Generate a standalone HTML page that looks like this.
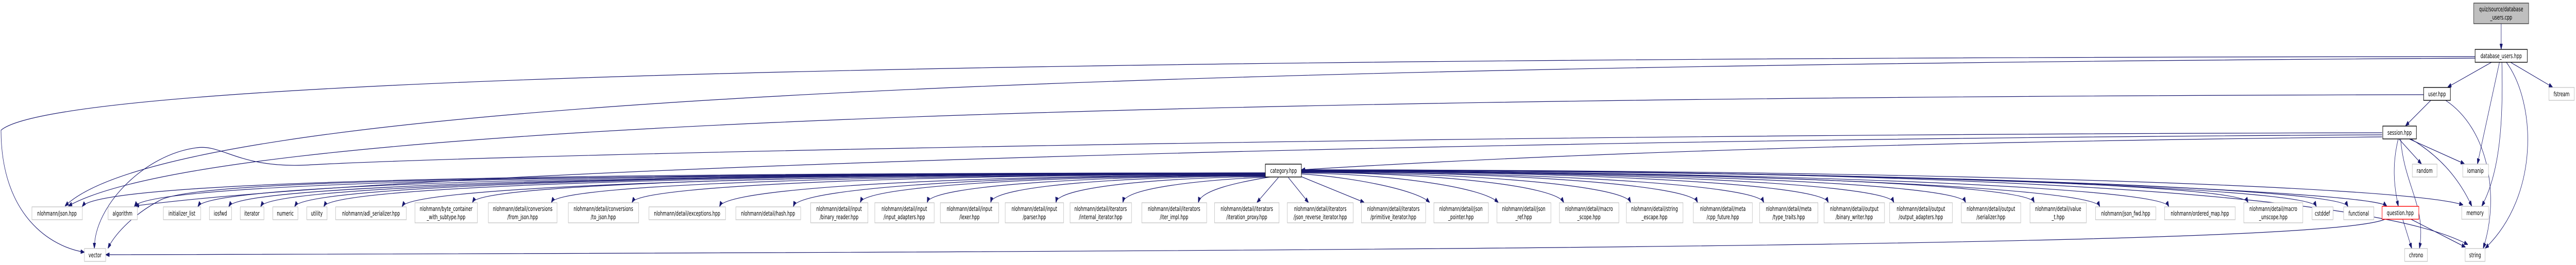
<!DOCTYPE html>
<html><head><meta charset="utf-8">
<style>
html,body{margin:0;padding:0;background:#fff;width:100%;height:100%;overflow:hidden;}
svg{display:block;width:100vw;height:100vh;}
text{font-family:"DejaVu Sans","Liberation Sans",sans-serif;font-size:12px;fill:#000;}
.lf{fill:#fff;stroke:#bfbfbf;stroke-width:1.2;}
.bk{fill:#fff;stroke:#000;stroke-width:1.4;}
.e{fill:none;stroke:#191970;stroke-width:1.2;}
</style></head><body>
<svg viewBox="0 0 7506 515" preserveAspectRatio="none" xmlns="http://www.w3.org/2000/svg">
<defs>
<marker id="a" markerWidth="11" markerHeight="8" refX="10" refY="4" orient="auto" markerUnits="userSpaceOnUse">
<path d="M0,0 L11,4 L0,8 z" fill="#191970" stroke="#191970"/>
</marker>
</defs>
<g class="e" marker-end="url(#a)">
<path d="M7288 46 L7288 95"/>
<path d="M7260 121 L7133 169"/>
<path d="M7315 121 L7437 169"/>
<path d="M7283 121 L7219 318"/>
<path d="M7290 121 C7295 250 7280 340 7232 400"/>
<path d="M7303 121 C7390 200 7400 380 7242 482"/>
<path d="M7212 110 C3500 112 200 140 3 253 C3 420 150 480 245 490"/>
<path d="M7212 113 C3000 130 500 200 190 400"/>
<path d="M7083 195 L7010 244"/>
<path d="M7126 195 C7250 250 7285 380 7236 482"/>
<path d="M7062 184 C3000 190 600 250 200 400"/>
<path d="M6990 270 L7055 318"/>
<path d="M7020 270 L7180 318"/>
<path d="M7025 270 C7100 300 7160 340 7202 400"/>
<path d="M6988 270 C6970 320 6975 360 6988 400"/>
<path d="M6995 270 C7005 360 7070 400 7050 482"/>
<path d="M6941 258 C4000 262 1500 300 912 320 C700 330 650 280 574 287 C420 300 275 400 275 482"/>
<path d="M6941 262 C4000 272 1200 330 395 400"/>
<path d="M6941 266 C5500 276 4500 300 3793 330"/>
<path d="M7001 426 L7027 482"/>
<path d="M7025 426 L7183 480"/>
<path d="M6950 426 C6800 470 5000 488 309 495"/>
<path d="M3687 336 C1950 336 300 345 240 401"/>
<path d="M3687 336 C2030 336 440 350 392 401"/>
<path d="M3687 336 C2130 336 620 352 577 401"/>
<path d="M3687 336 C2180 337 705 355 667 401"/>
<path d="M3687 337 C2220 337 795 356 760 401"/>
<path d="M3687 337 C2270 337 895 356 859 401"/>
<path d="M3687 337 C2320 338 975 358 944 401"/>
<path d="M3687 338 C2430 338 1205 360 1172 401"/>
<path d="M3687 338 C2530 338 1405 355 1377 393"/>
<path d="M3687 339 C2650 339 1635 356 1607 393"/>
<path d="M3687 339 C2760 339 1868 358 1842 393"/>
<path d="M3687 340 C2890 340 2120 362 2097 401"/>
<path d="M3687 340 C3000 340 2330 362 2312 401"/>
<path d="M3687 341 C3100 341 2525 360 2507 393"/>
<path d="M3687 341 C3200 342 2715 360 2702 393"/>
<path d="M3687 342 C3300 343 2897 360 2887 393"/>
<path d="M3690 343 C3400 345 3085 362 3077 393"/>
<path d="M3692 344 C3500 350 3280 365 3272 393"/>
<path d="M3700 344 C3600 355 3500 370 3492 393"/>
<path d="M3725 345 L3663 393"/>
<path d="M3754 345 L3812 393"/>
<path d="M3787 342 L3974 393"/>
<path d="M3792 338 C3950 345 4130 370 4165 393"/>
<path d="M3792 336 C4080 340 4320 365 4365 393"/>
<path d="M3792 335 C4170 336 4530 360 4556 393"/>
<path d="M3792 335 C4270 335 4730 360 4751 393"/>
<path d="M3792 334 C4370 334 4925 358 4946 393"/>
<path d="M3792 334 C4460 334 5118 358 5139 393"/>
<path d="M3792 333 C4560 333 5305 356 5327 393"/>
<path d="M3792 333 C4650 333 5495 355 5518 393"/>
<path d="M3792 333 C4760 333 5705 355 5727 393"/>
<path d="M3792 332 C4860 332 5905 355 5927 393"/>
<path d="M3792 332 C4950 332 6095 362 6118 401"/>
<path d="M3792 332 C5050 332 6295 362 6319 401"/>
<path d="M3792 331 C5170 331 6525 355 6550 393"/>
<path d="M3792 331 C5270 331 6725 362 6749 401"/>
<path d="M3792 331 C5320 331 6815 362 6841 401"/>
<path d="M3792 330 C5380 330 6900 370 6954 400"/>
<path d="M3792 330 C5500 330 7000 360 7176 398"/>
<path d="M3792 330 C5600 330 6900 370 7190 475"/>
<path d="M3687 338 C1500 340 560 350 464 390 C380 420 330 460 315 482"/>
</g>

<rect x="7208" y="6" width="160" height="40" fill="#bfbfbf" stroke="#404040" stroke-width="1.4"/>
<text x="7288" y="22" text-anchor="middle">quiz/source/database</text>
<text x="7288" y="38" text-anchor="middle">_users.cpp</text>
<rect class="bk" x="7212" y="96" width="152" height="25"/><text x="7288" y="113" text-anchor="middle">database_users.hpp</text>
<rect class="bk" x="7062" y="170" width="78" height="25"/><text x="7101" y="187" text-anchor="middle">user.hpp</text>
<rect class="lf" x="7427" y="170" width="74" height="25"/><text x="7464" y="187" text-anchor="middle">fstream</text>
<rect class="bk" x="6943" y="245" width="98" height="25"/><text x="6992" y="262" text-anchor="middle">session.hpp</text>
<rect class="lf" x="7029" y="319" width="72" height="25"/><text x="7065" y="336" text-anchor="middle">random</text>
<rect class="lf" x="7176" y="319" width="75" height="25"/><text x="7213" y="336" text-anchor="middle">iomanip</text>
<rect class="bk" x="3687" y="319" width="105" height="25"/><text x="3740" y="336" text-anchor="middle">category.hpp</text>
<rect x="6941" y="401" width="107" height="25" fill="#fff" stroke="#ff0000" stroke-width="1.4"/><text x="6994" y="418" text-anchor="middle">question.hpp</text>
<rect class="lf" x="7173" y="401" width="78" height="25"/><text x="7212" y="418" text-anchor="middle">memory</text>
<rect class="lf" x="7007" y="483" width="66" height="25"/><text x="7040" y="500" text-anchor="middle">chrono</text>
<rect class="lf" x="7183" y="483" width="58" height="25"/><text x="7212" y="500" text-anchor="middle">string</text>
<rect class="lf" x="246" y="483" width="62" height="25"/><text x="277" y="500" text-anchor="middle">vector</text>

<rect class="lf" x="93" y="402" width="147" height="25"/><text x="166" y="419" text-anchor="middle">nlohmann/json.hpp</text>
<rect class="lf" x="315" y="402" width="85" height="25"/><text x="357" y="419" text-anchor="middle">algorithm</text>
<rect class="lf" x="476" y="402" width="109" height="25"/><text x="530" y="419" text-anchor="middle">initializer_list</text>
<rect class="lf" x="610" y="402" width="65" height="25"/><text x="642" y="419" text-anchor="middle">iosfwd</text>
<rect class="lf" x="700" y="402" width="69" height="25"/><text x="734" y="419" text-anchor="middle">iterator</text>
<rect class="lf" x="795" y="402" width="73" height="25"/><text x="831" y="419" text-anchor="middle">numeric</text>
<rect class="lf" x="894" y="402" width="59" height="25"/><text x="923" y="419" text-anchor="middle">utility</text>
<rect class="lf" x="978" y="402" width="206" height="25"/><text x="1081" y="419" text-anchor="middle">nlohmann/adl_serializer.hpp</text>
<rect class="lf" x="1891" y="402" width="223" height="25"/><text x="2002" y="419" text-anchor="middle">nlohmann/detail/exceptions.hpp</text>
<rect class="lf" x="2144" y="402" width="189" height="25"/><text x="2238" y="419" text-anchor="middle">nlohmann/detail/hash.hpp</text>
<rect class="lf" x="6106" y="402" width="176" height="25"/><text x="6194" y="419" text-anchor="middle">nlohmann/json_fwd.hpp</text>
<rect class="lf" x="6307" y="402" width="206" height="25"/><text x="6410" y="419" text-anchor="middle">nlohmann/ordered_map.hpp</text>
<rect class="lf" x="6737" y="402" width="61" height="25"/><text x="6767" y="419" text-anchor="middle">cstddef</text>
<rect class="lf" x="6829" y="402" width="88" height="25"/><text x="6873" y="419" text-anchor="middle">functional</text>

<rect class="lf" x="1209" y="394" width="182" height="39"/><text x="1300" y="410" text-anchor="middle">nlohmann/byte_container</text><text x="1300" y="426" text-anchor="middle">_with_subtype.hpp</text>
<rect class="lf" x="1423" y="394" width="200" height="39"/><text x="1523" y="410" text-anchor="middle">nlohmann/detail/conversions</text><text x="1523" y="426" text-anchor="middle">/from_json.hpp</text>
<rect class="lf" x="1656" y="394" width="205" height="39"/><text x="1758" y="410" text-anchor="middle">nlohmann/detail/conversions</text><text x="1758" y="426" text-anchor="middle">/to_json.hpp</text>
<rect class="lf" x="2362" y="394" width="167" height="39"/><text x="2445" y="410" text-anchor="middle">nlohmann/detail/input</text><text x="2445" y="426" text-anchor="middle">/binary_reader.hpp</text>
<rect class="lf" x="2549" y="394" width="173" height="39"/><text x="2635" y="410" text-anchor="middle">nlohmann/detail/input</text><text x="2635" y="426" text-anchor="middle">/input_adapters.hpp</text>
<rect class="lf" x="2740" y="394" width="170" height="39"/><text x="2825" y="410" text-anchor="middle">nlohmann/detail/input</text><text x="2825" y="426" text-anchor="middle">/lexer.hpp</text>
<rect class="lf" x="2929" y="394" width="170" height="39"/><text x="3014" y="410" text-anchor="middle">nlohmann/detail/input</text><text x="3014" y="426" text-anchor="middle">/parser.hpp</text>
<rect class="lf" x="3118" y="394" width="179" height="39"/><text x="3207" y="410" text-anchor="middle">nlohmann/detail/iterators</text><text x="3207" y="426" text-anchor="middle">/internal_iterator.hpp</text>
<rect class="lf" x="3327" y="394" width="189" height="39"/><text x="3421" y="410" text-anchor="middle">nlohmann/detail/iterators</text><text x="3421" y="426" text-anchor="middle">/iter_impl.hpp</text>
<rect class="lf" x="3539" y="394" width="188" height="39"/><text x="3633" y="410" text-anchor="middle">nlohmann/detail/iterators</text><text x="3633" y="426" text-anchor="middle">/iteration_proxy.hpp</text>
<rect class="lf" x="3751" y="394" width="192" height="39"/><text x="3847" y="410" text-anchor="middle">nlohmann/detail/iterators</text><text x="3847" y="426" text-anchor="middle">/json_reverse_iterator.hpp</text>
<rect class="lf" x="3967" y="394" width="187" height="39"/><text x="4060" y="410" text-anchor="middle">nlohmann/detail/iterators</text><text x="4060" y="426" text-anchor="middle">/primitive_iterator.hpp</text>
<rect class="lf" x="4178" y="394" width="159" height="39"/><text x="4257" y="410" text-anchor="middle">nlohmann/detail/json</text><text x="4257" y="426" text-anchor="middle">_pointer.hpp</text>
<rect class="lf" x="4362" y="394" width="157" height="39"/><text x="4440" y="410" text-anchor="middle">nlohmann/detail/json</text><text x="4440" y="426" text-anchor="middle">_ref.hpp</text>
<rect class="lf" x="4544" y="394" width="173" height="39"/><text x="4630" y="410" text-anchor="middle">nlohmann/detail/macro</text><text x="4630" y="426" text-anchor="middle">_scope.hpp</text>
<rect class="lf" x="4739" y="394" width="165" height="39"/><text x="4821" y="410" text-anchor="middle">nlohmann/detail/string</text><text x="4821" y="426" text-anchor="middle">_escape.hpp</text>
<rect class="lf" x="4934" y="394" width="172" height="39"/><text x="5020" y="410" text-anchor="middle">nlohmann/detail/meta</text><text x="5020" y="426" text-anchor="middle">/cpp_future.hpp</text>
<rect class="lf" x="5127" y="394" width="170" height="39"/><text x="5212" y="410" text-anchor="middle">nlohmann/detail/meta</text><text x="5212" y="426" text-anchor="middle">/type_traits.hpp</text>
<rect class="lf" x="5315" y="394" width="176" height="39"/><text x="5403" y="410" text-anchor="middle">nlohmann/detail/output</text><text x="5403" y="426" text-anchor="middle">/binary_writer.hpp</text>
<rect class="lf" x="5506" y="394" width="183" height="39"/><text x="5597" y="410" text-anchor="middle">nlohmann/detail/output</text><text x="5597" y="426" text-anchor="middle">/output_adapters.hpp</text>
<rect class="lf" x="5715" y="394" width="173" height="39"/><text x="5801" y="410" text-anchor="middle">nlohmann/detail/output</text><text x="5801" y="426" text-anchor="middle">/serializer.hpp</text>
<rect class="lf" x="5915" y="394" width="164" height="39"/><text x="5997" y="410" text-anchor="middle">nlohmann/detail/value</text><text x="5997" y="426" text-anchor="middle">_t.hpp</text>
<rect class="lf" x="6538" y="394" width="172" height="39"/><text x="6624" y="410" text-anchor="middle">nlohmann/detail/macro</text><text x="6624" y="426" text-anchor="middle">_unscope.hpp</text>
</svg>
</body></html>
